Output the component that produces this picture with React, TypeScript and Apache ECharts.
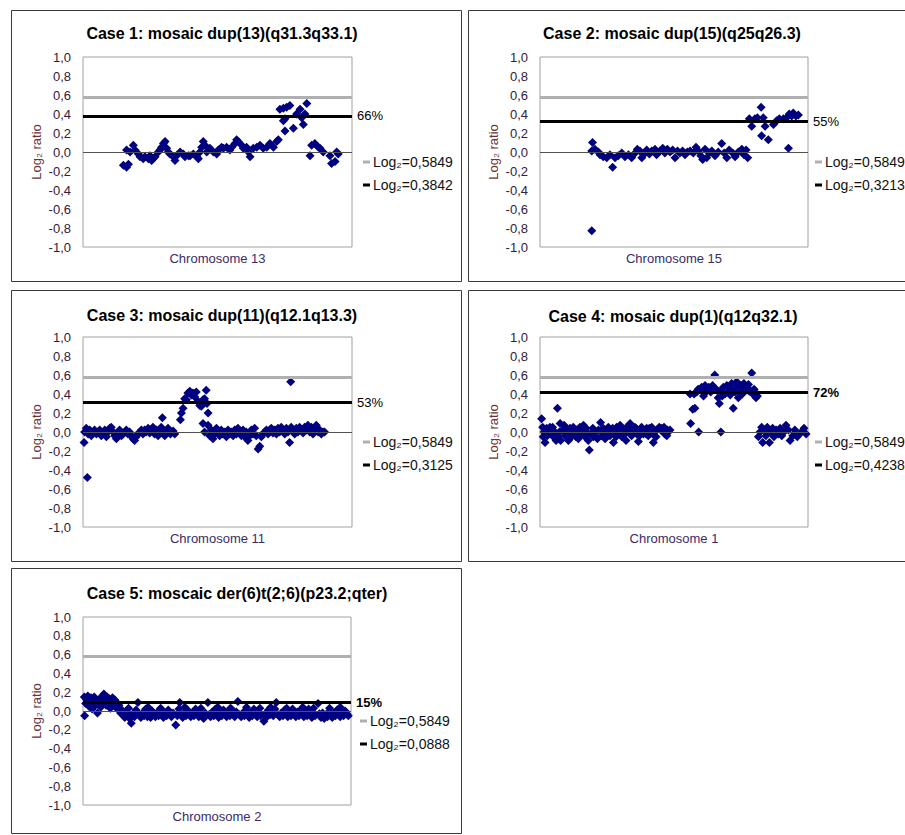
import React, { useEffect, useRef } from "react";
import * as echarts from "echarts";

// ---------- DATA ----------
const caseTitles = [
  "Case 1: mosaic dup(13)(q31.3q33.1)",
  "Case 2: mosaic dup(15)(q25q26.3)",
  "Case 3: mosaic dup(11)(q12.1q13.3)",
  "Case 4: mosaic dup(1)(q12q32.1)",
  "Case 5: moscaic der(6)t(2;6)(p23.2;qter)",
];
const chromosomeNames = ["Chromosome 13", "Chromosome 15", "Chromosome 11", "Chromosome 1", "Chromosome 2"];
const referenceLog2 = 0.5849;
const referenceLabel = "Log₂=0,5849";
const mosaicLog2 = [0.3842, 0.3213, 0.3125, 0.4238, 0.0888];
const mosaicLabels = ["Log₂=0,3842", "Log₂=0,3213", "Log₂=0,3125", "Log₂=0,4238", "Log₂=0,0888"];
const mosaicPercents = ["66%", "55%", "53%", "72%", "15%"];
const yAxisName = "Log₂ ratio";

const case1Points: [number, number][] = [
  [15.0, -0.14], [16.2, -0.16], [16.9, -0.13], [16.2, 0.02], [17.5, 0.0], [18.7, 0.07], [19.3, 0.02],
  [20.6, -0.02], [21.2, -0.05], [22.4, -0.07], [23.0, -0.05], [24.3, -0.07], [24.9, -0.04], [25.5, -0.09],
  [26.1, -0.07], [26.8, -0.05], [28.0, 0.0], [28.6, 0.02], [29.2, 0.05], [29.9, 0.09], [30.5, 0.11],
  [31.1, 0.04], [31.7, 0.0], [32.3, -0.02], [33.6, -0.05], [34.2, -0.09], [34.8, -0.04], [36.1, 0.0],
  [37.3, -0.02], [37.9, -0.05], [39.2, -0.04], [39.8, -0.04], [41.0, -0.02], [42.3, -0.05], [42.9, -0.07],
  [43.5, 0.0], [44.1, 0.05], [44.7, 0.11], [45.3, 0.07], [46.0, 0.0], [47.2, 0.04], [48.5, 0.0],
  [49.7, -0.02], [50.3, 0.02], [51.5, 0.05], [52.2, 0.04], [53.4, 0.05], [54.6, 0.02], [55.3, 0.05],
  [56.5, 0.09], [57.1, 0.13], [57.7, 0.11], [59.0, 0.07], [59.6, 0.04], [60.8, 0.05], [61.5, 0.0],
  [62.1, -0.05], [63.3, 0.04], [64.6, 0.05], [65.8, 0.07], [67.0, 0.04], [68.3, 0.05], [69.5, 0.09],
  [70.8, 0.05], [72.0, 0.11], [72.6, 0.13], [73.2, 0.45], [74.5, 0.46], [75.7, 0.47], [76.9, 0.49],
  [74.5, 0.33], [75.1, 0.35], [75.1, 0.22], [78.2, 0.25], [79.4, 0.4], [80.7, 0.45], [81.3, 0.36],
  [81.9, 0.29], [82.5, 0.4], [83.2, 0.51], [84.4, -0.04], [85.0, 0.07], [86.2, 0.09], [87.5, 0.05],
  [88.1, 0.04], [89.3, 0.0], [91.8, -0.04], [92.4, -0.12], [93.7, -0.1], [94.3, 0.0], [94.9, -0.02],
];

const case2Points: [number, number][] = [
  [19.3, -0.83], [19.6, 0.1], [19.3, 0.01], [20.5, 0.03], [21.8, 0.0], [22.4, -0.03], [23.6, -0.05],
  [24.9, -0.06], [26.1, -0.03], [27.1, -0.16], [28.0, -0.06], [29.2, -0.04], [30.5, -0.01], [31.7, -0.05],
  [33.0, -0.03], [34.2, -0.06], [35.5, -0.01], [36.3, 0.03], [37.3, 0.01], [38.0, -0.06], [38.6, -0.03],
  [39.8, 0.02], [40.8, -0.02], [41.7, 0.01], [42.9, 0.03], [43.5, -0.03], [44.8, 0.01], [45.8, 0.04],
  [46.6, -0.01], [47.5, 0.03], [48.5, 0.0], [49.5, 0.02], [50.4, -0.06], [51.3, 0.01], [52.2, -0.01],
  [53.2, 0.01], [54.1, -0.03], [55.0, 0.0], [56.0, 0.01], [57.2, -0.01], [58.2, 0.05], [59.1, 0.01],
  [60.0, -0.04], [60.7, -0.08], [61.6, 0.03], [62.2, -0.06], [63.2, -0.01], [64.1, 0.01], [65.3, -0.04],
  [66.5, 0.0], [67.8, 0.09], [68.7, -0.01], [69.7, -0.06], [70.6, 0.02], [71.9, -0.01], [72.8, -0.05],
  [74.0, 0.0], [75.3, 0.03], [76.1, -0.03], [76.9, 0.02], [77.5, -0.06], [78.1, 0.35], [79.0, 0.27],
  [80.2, 0.35], [81.1, 0.36], [82.5, 0.47], [83.3, 0.36], [82.7, 0.17], [84.0, 0.27], [85.2, 0.13],
  [87.1, 0.29], [88.3, 0.33], [89.3, 0.35], [90.8, 0.35], [92.0, 0.36], [92.7, 0.04], [93.0, 0.4],
  [93.9, 0.38], [94.5, 0.41], [95.5, 0.38], [96.4, 0.39],
];

const case3Points: [number, number][] = [
  [0.4, -0.11], [1.6, -0.48], [0.6, 0.0], [1.2, 0.04], [1.9, -0.02], [2.5, 0.02], [3.1, -0.04], [3.7, 0.0],
  [4.3, 0.02], [5.0, -0.02], [5.6, 0.0], [6.2, 0.02], [6.8, -0.04], [7.4, -0.01], [8.1, 0.02], [8.7, -0.05],
  [9.3, 0.0], [9.9, 0.04], [10.5, 0.05], [11.2, 0.0], [11.8, -0.04], [12.4, -0.07], [13.0, -0.01],
  [13.6, 0.02], [14.3, -0.04], [14.9, -0.02], [15.5, 0.0], [16.1, 0.02], [16.7, -0.02], [17.3, 0.0],
  [18.0, -0.04], [18.6, -0.07], [19.2, -0.09], [19.8, -0.05], [20.4, -0.02], [21.1, 0.0], [21.7, 0.02],
  [22.3, -0.02], [22.9, 0.02], [23.5, 0.0], [24.2, 0.04], [24.8, -0.01], [25.4, 0.02], [26.0, 0.05],
  [26.6, -0.02], [27.3, 0.02], [27.9, -0.04], [28.5, 0.0], [29.1, 0.05], [29.5, 0.15], [29.7, 0.02],
  [30.4, -0.04], [31.0, 0.0], [31.6, 0.04], [32.5, -0.02], [33.5, 0.01], [34.1, -0.02],
  [36.2, 0.13], [36.6, 0.2], [37.2, 0.25], [37.8, 0.35], [38.4, 0.34], [39.0, 0.41], [39.7, 0.43],
  [40.3, 0.39], [40.9, 0.41], [41.5, 0.37], [42.1, 0.42], [42.8, 0.32], [43.4, 0.28], [44.0, 0.27],
  [44.6, 0.34], [45.2, 0.35], [45.8, 0.44], [46.1, 0.3], [46.5, 0.2], [44.6, 0.09], [46.5, 0.07], [45.2, 0.0],
  [47.1, -0.04], [47.7, 0.02], [48.3, -0.07], [48.9, -0.02], [49.6, 0.04], [50.2, 0.0], [50.8, -0.04],
  [51.4, 0.02], [52.0, -0.02], [52.7, 0.0], [53.3, -0.05], [53.9, 0.02], [54.5, -0.02], [55.1, 0.0],
  [55.8, -0.04], [56.4, 0.02], [57.0, -0.02], [57.6, 0.04], [58.2, 0.0], [58.9, -0.04], [59.5, 0.02],
  [60.1, -0.05], [60.7, 0.0], [61.3, -0.09], [62.0, -0.04], [62.6, 0.02], [63.2, -0.02], [63.8, 0.04],
  [64.4, -0.04], [65.1, -0.18], [65.7, -0.15], [66.3, -0.05], [66.9, -0.02], [67.5, 0.0], [68.2, 0.02],
  [68.8, -0.02], [69.4, 0.02], [70.0, 0.04], [70.6, -0.01], [71.3, 0.02], [71.9, -0.02], [72.5, 0.04],
  [73.1, 0.0], [73.7, 0.05], [74.3, 0.02], [75.0, -0.02], [75.6, 0.04], [76.2, 0.0], [76.8, -0.11],
  [77.2, 0.53], [77.4, 0.05], [78.1, 0.02], [78.7, -0.02], [79.3, 0.04], [79.9, 0.0], [80.5, 0.05],
  [81.2, 0.02], [81.8, -0.01], [82.4, 0.05], [83.0, 0.02], [83.6, 0.07], [84.3, 0.0], [84.9, 0.05],
  [85.5, -0.02], [86.1, 0.04], [86.7, 0.07], [87.4, 0.0], [88.0, 0.02], [88.6, -0.02], [89.2, 0.0], [89.8, 0.0],
];

const case4Points: [number, number][] = [
  [0.6, 0.14], [1.0, 0.05], [1.5, 0.0], [1.9, -0.11], [2.5, 0.04], [3.1, -0.02], [3.7, 0.05], [4.4, 0.02],
  [5.0, -0.05], [5.6, 0.0], [6.5, 0.25], [6.8, -0.04], [7.5, 0.09], [7.7, -0.09], [8.5, 0.02], [9.0, 0.07],
  [9.3, -0.04], [10.0, 0.0], [10.6, -0.09], [11.2, 0.04], [11.8, -0.05], [12.4, 0.05], [13.1, -0.02],
  [13.7, 0.02], [14.3, -0.07], [14.9, 0.05], [15.5, -0.02], [16.2, 0.07], [16.8, -0.05], [17.4, 0.0],
  [18.0, -0.09], [18.4, -0.19], [18.9, -0.02], [19.7, 0.04], [20.1, -0.04], [20.9, 0.0], [21.8, 0.02],
  [22.6, 0.1], [23.0, -0.04], [23.6, 0.04], [24.3, -0.07], [24.9, 0.0], [25.5, 0.05], [26.1, -0.04],
  [26.7, 0.02], [27.4, -0.11], [28.0, -0.02], [28.6, 0.05], [29.2, 0.0], [29.9, 0.07], [30.5, -0.05],
  [31.1, 0.02], [31.7, -0.02], [32.3, 0.05], [33.0, 0.0], [33.6, 0.09], [34.2, -0.04], [34.8, 0.02],
  [35.4, 0.05], [36.1, -0.02], [36.7, -0.1], [37.3, 0.02], [37.9, 0.05], [38.6, -0.02], [39.2, 0.02],
  [39.8, 0.04], [40.4, -0.04], [41.0, 0.0], [41.7, 0.05], [42.3, -0.11], [42.9, 0.0], [43.5, 0.02],
  [44.5, 0.05], [45.4, 0.04], [46.0, 0.0], [46.6, -0.02], [47.3, -0.04], [47.9, 0.0], [48.5, 0.02],
  [1.2, -0.05], [2.7, -0.04], [4.7, 0.05], [6.0, -0.09], [7.2, 0.0], [9.7, 0.04], [10.9, -0.02],
  [12.2, 0.0], [13.4, -0.05], [14.7, 0.0], [15.9, 0.02], [17.2, 0.04], [19.9, -0.05], [21.4, -0.07],
  [23.4, 0.0], [24.6, -0.04], [25.9, 0.02], [27.1, 0.04], [28.4, -0.05], [29.6, -0.02], [30.8, 0.0],
  [32.1, -0.09], [33.3, 0.04], [34.6, 0.0], [35.8, 0.04], [37.1, -0.04], [39.6, -0.02], [40.8, 0.04],
  [42.0, -0.02], [43.3, -0.05], [45.0, 0.02], [46.3, 0.05], [47.5, 0.02],
  [56.2, 0.09], [57.0, 0.24], [57.8, 0.25], [57.5, 0.4], [58.5, 0.42], [59.2, 0.0], [60.3, 0.47],
  [60.9, 0.42], [61.6, 0.49], [62.2, 0.43], [62.8, 0.46], [63.7, 0.42], [64.4, 0.49], [65.2, 0.6],
  [65.7, 0.45], [66.5, 0.36], [66.9, 0.3], [67.5, 0.0], [67.8, 0.43], [68.4, 0.47], [69.0, 0.4],
  [69.7, 0.49], [70.3, 0.43], [70.9, 0.45], [71.5, 0.51], [72.1, 0.25], [72.8, 0.42], [73.4, 0.53],
  [74.0, 0.36], [74.4, 0.43], [75.0, 0.49], [75.6, 0.42], [76.1, 0.51], [76.9, 0.45], [77.4, 0.47],
  [78.1, 0.43], [79.0, 0.62], [79.4, 0.4], [79.9, 0.45], [80.6, 0.36], [81.1, 0.38], [56.0, 0.4],
  [59.0, 0.45], [61.0, 0.38], [63.0, 0.47], [66.0, 0.44], [68.0, 0.38], [71.0, 0.39], [73.0, 0.46],
  [75.5, 0.4], [77.8, 0.5], [80.2, 0.42],
  [81.5, -0.05], [82.1, 0.0], [82.7, 0.05], [83.1, -0.11], [83.6, 0.02], [84.3, -0.04], [84.8, 0.05],
  [85.6, -0.11], [86.1, 0.0], [86.8, 0.04], [87.3, -0.05], [88.1, 0.02], [88.9, -0.02], [89.6, 0.04],
  [90.2, -0.04], [91.0, 0.0], [91.8, 0.07], [92.7, 0.02], [93.3, -0.09], [94.3, -0.04], [95.1, 0.02],
  [96.0, -0.05], [96.8, -0.02], [97.6, 0.0], [98.5, 0.04], [99.3, -0.02],
];

const case5Points: [number, number][] = [
  [0.5, 0.15], [0.6, -0.05], [1.0, 0.08], [1.4, 0.12], [1.8, 0.16], [2.2, 0.05], [2.6, 0.1], [3.0, 0.14],
  [3.4, 0.02], [3.8, 0.09], [4.2, 0.15], [4.6, 0.06], [5.0, 0.12], [5.4, -0.02], [5.8, 0.08], [6.2, 0.13],
  [6.6, 0.04], [7.0, 0.1], [7.4, 0.16], [7.8, 0.18], [8.2, 0.11], [8.6, 0.06], [9.0, 0.15], [9.4, 0.09],
  [9.8, 0.13], [10.2, 0.03], [10.6, 0.1], [11.0, 0.14], [11.4, 0.07], [11.8, 0.12], [12.2, 0.04],
  [12.6, 0.09], [13.0, 0.02], [13.4, 0.06], [14.0, -0.02], [14.5, 0.01],
  [15.0, -0.04], [15.6, -0.07], [16.2, -0.02], [16.8, -0.05], [17.4, -0.08], [18.0, -0.13], [18.6, -0.03],
  [19.2, -0.06], [19.8, 0.01], [20.5, 0.09], [21.0, -0.04], [21.6, -0.07], [22.2, -0.02], [22.8, -0.05],
  [23.4, 0.02], [24.0, -0.06], [24.6, -0.03], [25.2, -0.07], [25.8, 0.0], [26.4, -0.04], [27.0, -0.06],
  [27.6, -0.02], [28.2, -0.05], [28.8, 0.02], [29.4, -0.04], [30.0, -0.07], [30.6, -0.02], [31.2, -0.05],
  [31.8, 0.01], [32.4, -0.03], [33.0, -0.06], [33.6, -0.02], [34.6, -0.15], [35.2, -0.05], [35.8, 0.02],
  [36.1, 0.09], [36.6, -0.04], [37.2, -0.07], [37.8, -0.02], [38.4, -0.05], [39.0, 0.01], [39.6, -0.04],
  [40.2, -0.06], [40.8, -0.02], [41.4, -0.05], [42.0, 0.02], [42.6, -0.03], [43.2, -0.06], [43.8, -0.01],
  [44.4, -0.05], [45.0, -0.08], [45.6, -0.02], [46.6, 0.09], [47.0, -0.04], [47.6, -0.06], [48.2, -0.01],
  [48.8, -0.05], [49.4, 0.02], [50.0, -0.03], [50.6, -0.07], [51.2, -0.02], [51.8, -0.05], [52.4, 0.01],
  [53.0, -0.04], [53.6, -0.06], [54.2, -0.02], [54.8, -0.05], [55.4, 0.02], [56.0, -0.03], [56.6, -0.06],
  [57.2, -0.01], [57.8, 0.1], [58.4, -0.04], [59.0, -0.06], [59.6, -0.02], [60.2, -0.05], [60.8, 0.01],
  [61.4, -0.03], [62.0, -0.07], [62.6, -0.02], [63.2, -0.05], [63.8, 0.02], [64.4, -0.04], [65.0, -0.06],
  [65.6, -0.02], [66.2, -0.05], [67.5, -0.11], [68.0, -0.03], [68.6, -0.06], [69.2, 0.01], [69.8, -0.04],
  [70.4, -0.02], [71.0, -0.05], [71.6, 0.02], [72.1, 0.09], [72.8, -0.04], [73.4, -0.06], [74.0, -0.02],
  [74.6, -0.05], [75.2, 0.01], [75.8, -0.03], [76.4, -0.06], [77.0, -0.02], [77.6, -0.05], [78.2, 0.02],
  [78.8, -0.04], [79.4, -0.06], [80.0, -0.01], [80.6, -0.05], [81.2, 0.01], [81.8, -0.03], [82.4, -0.06],
  [83.0, -0.02], [83.6, -0.05], [84.2, 0.02], [84.8, -0.04], [85.4, -0.07], [86.0, -0.02], [86.6, -0.05],
  [87.7, 0.08], [88.2, -0.03], [88.8, -0.07], [89.4, -0.02], [90.0, -0.08], [90.6, -0.04], [91.2, -0.06],
  [91.8, -0.01], [92.4, -0.05], [93.0, -0.07], [93.6, -0.02], [94.2, -0.05], [94.8, 0.01], [95.4, -0.04],
  [96.0, -0.06], [96.6, -0.02], [97.2, -0.05], [97.8, 0.0], [98.4, -0.03], [99.0, -0.05],
  [17.0, 0.03], [24.3, 0.04], [29.0, 0.03], [38.0, 0.04], [44.0, 0.03], [50.3, 0.04], [55.0, 0.03],
  [61.0, 0.04], [66.0, 0.03], [70.0, 0.04], [76.0, 0.03], [82.0, 0.04], [86.0, 0.03], [92.0, 0.03], [96.0, 0.04],
];

const casePoints = [case1Points, case2Points, case3Points, case4Points, case5Points];

// ---------- LAYOUT ----------
const FONT = "'Liberation Sans', Arial, sans-serif";
const grids = [
  { left: 83, top: 57, width: 269, height: 190 },
  { left: 540, top: 57, width: 268, height: 190 },
  { left: 83, top: 337, width: 269, height: 190 },
  { left: 540, top: 337, width: 268, height: 190 },
  { left: 83, top: 617, width: 268, height: 188 },
];
const boxes = [
  { x: 11.5, y: 10.5, w: 450, h: 271 },
  { x: 468.5, y: 10.5, w: 460, h: 271 },
  { x: 11.5, y: 290.5, w: 450, h: 271 },
  { x: 468.5, y: 290.5, w: 460, h: 271 },
  { x: 11.5, y: 568.5, w: 450, h: 265 },
];
const titlePos = [
  { x: 222, y: 33 },
  { x: 672, y: 33 },
  { x: 222, y: 315 },
  { x: 673, y: 316 },
  { x: 237, y: 593 },
];
const legendDx = [11, 7, 11, 7, 9];
const pctBold = [false, false, false, true, true];

function fmtTick(v: number) {
  const r = Math.abs(v) < 1e-9 ? 0 : v;
  return r.toFixed(1).replace(".", ",");
}

export default function App() {
  const ref = useRef<HTMLDivElement>(null);
  useEffect(() => {
    if (!ref.current) return;
    const chart = echarts.init(ref.current, null, { renderer: "svg" });
    const graphic: any[] = [];
    const series: any[] = [];
    const xAxis: any[] = [];
    const yAxis: any[] = [];
    grids.forEach((g, i) => {
      const b = boxes[i];
      graphic.push({
        type: "rect",
        shape: { x: b.x, y: b.y, width: b.w, height: b.h },
        style: { fill: "none", stroke: "#3a3a3a", lineWidth: 1 },
        silent: true,
        z: 0,
      });
      graphic.push({
        type: "text",
        x: titlePos[i].x,
        y: titlePos[i].y,
        style: {
          text: caseTitles[i],
          fontSize: 16,
          fontWeight: "bold",
          fontFamily: FONT,
          fill: "#000",
          align: "center",
          verticalAlign: "middle",
        },
      });
      const zeroY = g.top + g.height / 2;
      const lx = g.left + g.width + legendDx[i];
      [
        { y: zeroY + 10, color: "#b0b0b0", text: referenceLabel },
        { y: zeroY + 33, color: "#000", text: mosaicLabels[i] },
      ].forEach((it) => {
        graphic.push({
          type: "line",
          shape: { x1: lx, y1: it.y, x2: lx + 7, y2: it.y },
          style: { stroke: it.color, lineWidth: 3 },
        });
        graphic.push({
          type: "text",
          x: lx + 10,
          y: it.y,
          style: {
            text: it.text,
            fontSize: 14,
            fontFamily: FONT,
            fill: "#111",
            align: "left",
            verticalAlign: "middle",
          },
        });
      });

      xAxis.push({
        type: "value",
        gridIndex: i,
        min: 0,
        max: 100,
        axisLine: { show: false },
        axisTick: { show: false },
        axisLabel: { show: false },
        splitLine: { show: false },
        name: chromosomeNames[i],
        nameLocation: "middle",
        nameGap: 5,
        nameTextStyle: { fontSize: 13, fontFamily: FONT, color: "#3a2a6a", verticalAlign: "top" },
      });
      yAxis.push({
        type: "value",
        gridIndex: i,
        min: -1,
        max: 1,
        interval: 0.2,
        axisLine: { show: false },
        axisTick: { show: false },
        splitLine: { show: false },
        axisLabel: {
          formatter: fmtTick,
          fontSize: 13,
          fontFamily: FONT,
          color: "#33203a",
          margin: 12,
          showMinLabel: true,
          showMaxLabel: true,
        },
        name: yAxisName,
        nameLocation: "middle",
        nameRotate: 90,
        nameGap: 40,
        nameTextStyle: { fontSize: 13, fontFamily: FONT, color: "#6a3434" },
      });
      series.push({
        type: "scatter",
        xAxisIndex: i,
        yAxisIndex: i,
        data: casePoints[i],
        symbol: "diamond",
        symbolSize: 9,
        itemStyle: { color: "#000080", opacity: 1 },
        z: 2,
        silent: true,
      });
      series.push({
        type: "scatter",
        xAxisIndex: i,
        yAxisIndex: i,
        data: [],
        z: 3,
        silent: true,
        markLine: {
          silent: true,
          symbol: ["none", "none"],
          animation: false,
          data: [
            { yAxis: 0, lineStyle: { color: "#505050", width: 1, type: "solid" }, label: { show: false } },
            { yAxis: referenceLog2, lineStyle: { color: "#b0b0b0", width: 3, type: "solid" }, label: { show: false } },
            {
              yAxis: mosaicLog2[i],
              lineStyle: { color: "#000", width: 3, type: "solid" },
              label: {
                show: true,
                position: "end",
                distance: 5,
                formatter: mosaicPercents[i],
                fontSize: 13,
                fontFamily: FONT,
                fontWeight: pctBold[i] ? "bold" : "normal",
                color: "#000",
              },
            },
          ],
        },
      });
    });

    chart.setOption({
      animation: false,
      backgroundColor: "#fff",
      grid: grids.map((g) => ({
        ...g,
        show: true,
        borderColor: "#a0a0a0",
        borderWidth: 1,
        backgroundColor: "#fff",
        containLabel: false,
      })),
      xAxis,
      yAxis,
      series,
      graphic,
    });
    return () => chart.dispose();
  }, []);
  return <div ref={ref} style={{ position: "absolute", left: 0, top: 0, width: 905, height: 835 }} />;
}
